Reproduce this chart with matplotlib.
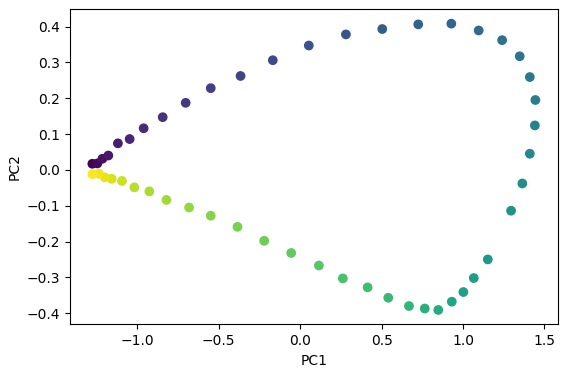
import numpy as np
from matplotlib import pyplot as plt

# PCA scores, in sample order
pc1 = [-1.276, -1.245, -1.214, -1.178, -1.119, -1.047, -0.961, -0.844, -0.703, -0.549,
       -0.366, -0.168, 0.053, 0.281, 0.504, 0.725, 0.928, 1.096, 1.240, 1.348,
       1.410, 1.444, 1.441, 1.410, 1.364, 1.295, 1.152, 1.066, 1.002, 0.931,
       0.848, 0.765, 0.668, 0.541, 0.414, 0.262, 0.115, -0.055, -0.221, -0.385,
       -0.549, -0.682, -0.821, -0.926, -1.018, -1.094, -1.157, -1.199, -1.235, -1.276]
pc2 = [0.017, 0.018, 0.031, 0.040, 0.074, 0.086, 0.116, 0.147, 0.187, 0.228,
       0.262, 0.306, 0.347, 0.378, 0.393, 0.406, 0.408, 0.389, 0.362, 0.317,
       0.259, 0.195, 0.124, 0.045, -0.038, -0.114, -0.250, -0.302, -0.341, -0.368,
       -0.391, -0.387, -0.380, -0.357, -0.328, -0.303, -0.267, -0.232, -0.198, -0.159,
       -0.128, -0.105, -0.084, -0.060, -0.049, -0.031, -0.025, -0.021, -0.011, -0.012]
order = np.arange(len(pc1))

fig = plt.figure(figsize=(5.66, 3.74), dpi=100)
ax = fig.add_axes([0.124, 0.133, 0.861, 0.842])
ax.scatter(pc1, pc2, c=order, cmap='viridis')
ax.set_xlabel('PC1')
ax.set_ylabel('PC2')
fig.savefig('out.png', dpi=100)
